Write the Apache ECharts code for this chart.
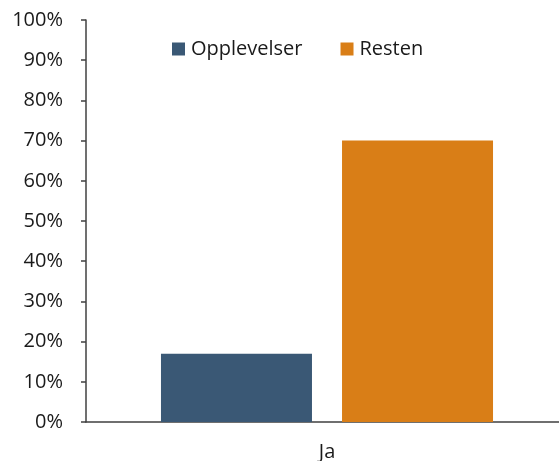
<!DOCTYPE html>
<html><head><meta charset="utf-8">
<script src="https://cdn.jsdelivr.net/npm/echarts@6/dist/echarts.min.js"></script>
<style>html,body{margin:0;padding:0;background:#fff}#c{width:559px;height:461px}</style>
</head><body><div id="c"></div>
<script>
const categories = ['Ja'];
const seriesNames = ['Opplevelser', 'Resten'];
const opplevelser = [0.17];
const resten = [0.70];
const yTicks = [0, 0.1, 0.2, 0.3, 0.4, 0.5, 0.6, 0.7, 0.8, 0.9, 1.0];

const font = 'Open Sans, Liberation Sans, sans-serif';
const chart = echarts.init(document.getElementById('c'), null, {renderer: 'canvas'});
chart.setOption({
  animation: false,
  textStyle: {fontFamily: font},
  legend: {
    left: 167, top: 34,
    itemWidth: 13, itemHeight: 13, itemGap: 38,
    icon: 'rect',
    textStyle: {fontFamily: font, fontSize: 20, color: '#1a1a1a', padding: [0,0,0,1]},
    data: seriesNames
  },
  grid: {left: 86, width: 482, top: 20, height: 402, containLabel: false, outerBoundsMode: 'none'},
  xAxis: {
    type: 'category', data: categories,
    axisLine: {lineStyle: {color: '#404040', width: 1.5}},
    axisTick: {show: false},
    axisLabel: {color: '#1a1a1a', fontSize: 20, fontFamily: font, margin: 20}
  },
  yAxis: {
    type: 'value', min: 0, max: yTicks[yTicks.length-1], interval: 0.1,
    axisLine: {show: true, lineStyle: {color: '#404040', width: 1.5}},
    axisTick: {show: true, length: 5, lineStyle: {color: '#404040', width: 1.5}},
    splitLine: {show: false},
    axisLabel: {color: '#1a1a1a', fontSize: 20, fontFamily: font, margin: 23,
      formatter: v => Math.round(v*100) + '%'}
  },
  series: [
    {name: seriesNames[0], type: 'bar', data: opplevelser, barWidth: 151, barGap: '19.9%',
     itemStyle: {color: '#3A5875'}},
    {name: seriesNames[1], type: 'bar', data: resten, barWidth: 151,
     itemStyle: {color: '#D97E17'}}
  ]
});
</script></body></html>
